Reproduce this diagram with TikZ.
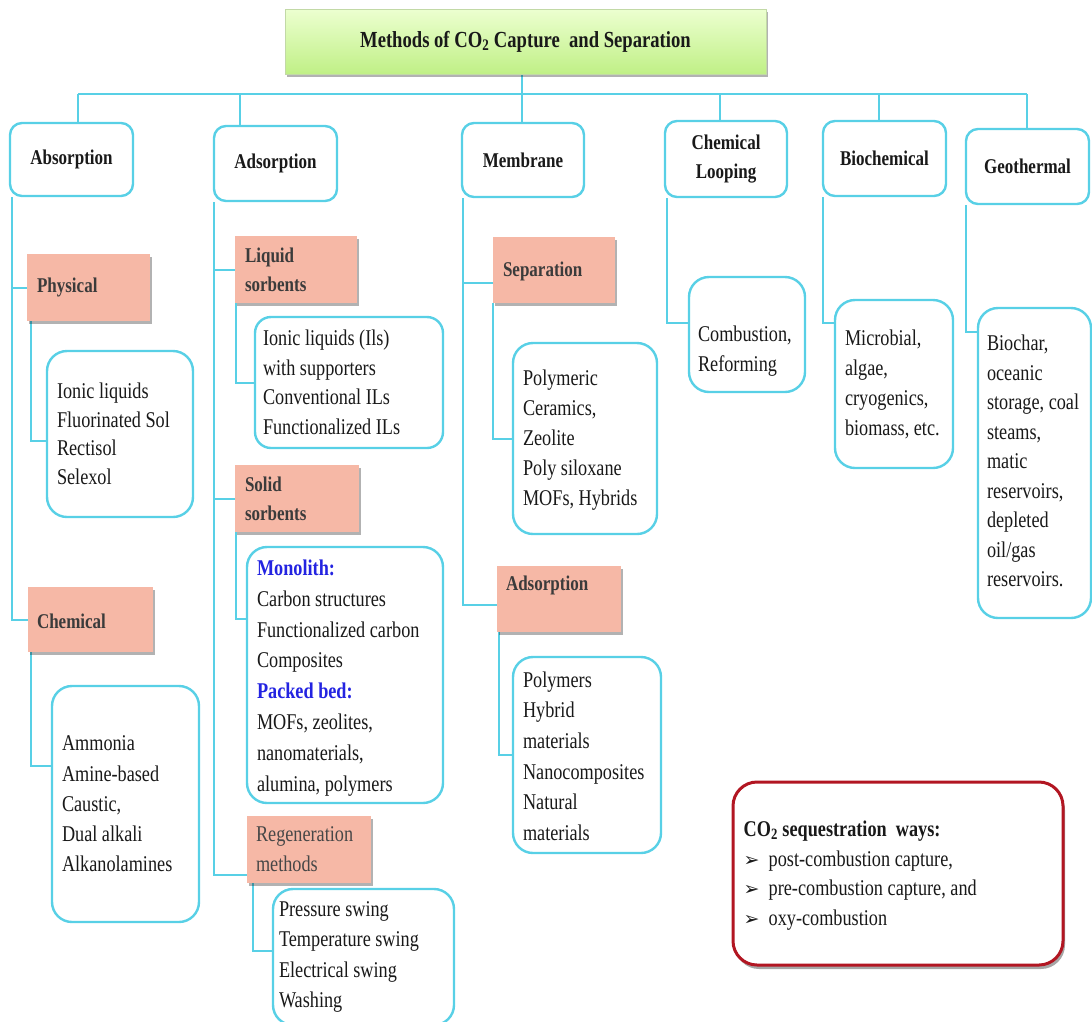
\documentclass[tikz,border=0pt]{standalone}
\usepackage{fontspec}
\setmainfont{Liberation Serif}[FakeStretch=0.81]
\newfontfamily\symf{DejaVu Sans}
\usetikzlibrary{shadows,backgrounds}
\definecolor{cyanl}{RGB}{88,208,230}
\definecolor{salmon}{RGB}{246,184,166}
\definecolor{darkred}{RGB}{178,22,34}
\definecolor{monoblue}{RGB}{35,35,225}
\definecolor{txt}{RGB}{25,25,25}
\definecolor{gtop}{RGB}{236,255,208}
\definecolor{gbot}{RGB}{192,240,134}
\newcommand\bodyf{\fontsize{22.5}{29.5}\selectfont}
\newcommand\headf{\fontsize{21}{29}\selectfont\bfseries}
\newcommand\titlef{\fontsize{23}{28}\selectfont\bfseries}
\newcommand\blt{\makebox[25pt][l]{\symf\fontsize{19}{19}\selectfont ➢}}
\begin{document}
\begin{tikzpicture}[x=1pt,y=-1pt,
 conn/.style={draw=cyanl, line width=2pt},
 hbox/.style={draw=cyanl, line width=2.4pt, rounded corners=12pt, fill=white, inner sep=0pt, font=\headf, text=txt, align=center},
 lbox/.style={draw=cyanl, line width=2.4pt, rounded corners=20pt, fill=white, inner sep=0pt},
 sbox/.style={fill=salmon, inner sep=0pt, drop shadow={shadow xshift=1.5pt, shadow yshift=-3pt, fill=black, opacity=0.3}},
 ltext/.style={font=\bodyf, text=txt, align=left, inner sep=0pt, anchor=west},
 stext/.style={font=\headf, text=txt!85, align=left, inner sep=0pt, anchor=west},
]
\useasboundingbox (0,0) rectangle (1092,1021);

% title
\node[draw=gbot!80!black!60, line width=0.6pt, top color=gtop, bottom color=gbot, minimum width=481, minimum height=65, inner sep=0pt, font=\titlef, text=txt,
  drop shadow={shadow xshift=2pt, shadow yshift=-3pt, fill=black, opacity=0.3}] (title) at (525.5,41.5) {Methods of CO\textsubscript{2} Capture~ and Separation};

% level 1
\node[hbox, minimum width=123, minimum height=73] (absorb) at (71.5,159.5) {Absorption};
\node[hbox, minimum width=123, minimum height=75] (adsorb) at (275.5,163.5) {Adsorption};
\node[hbox, minimum width=122, minimum height=74] (memb) at (523,160) {Membrane};
\node[hbox, minimum width=122, minimum height=76] (cloop) at (726,159) {Chemical\\Looping};
\node[hbox, minimum width=123, minimum height=75] (bioch) at (884.5,158.5) {Biochemical};
\node[hbox, minimum width=123, minimum height=75] (geoth) at (1027.5,166.5) {Geothermal};

% absorption
\node[sbox, minimum width=123, minimum height=67] (phys) at (88.5,287.5) {};
\node[stext] (phys-t) at ([xshift=10pt]phys.west) {Physical};
\node[lbox, minimum width=146, minimum height=166] (physl) at (120,434) {};
\node[ltext, font=\fontsize{22.5}{28.5}\selectfont] (physl-t) at ([xshift=11pt]physl.west) {Ionic liquids\\Fluorinated Sol\\Rectisol\\Selexol};
\node[sbox, minimum width=125, minimum height=65] (chem) at (90.5,619.5) {};
\node[stext] (chem-t) at ([xshift=9pt,yshift=-2pt]chem.west) {Chemical};
\node[lbox, minimum width=147, minimum height=236] (cheml) at (125.5,804) {};
\node[ltext, font=\fontsize{22.5}{30.3}\selectfont] (cheml-t) at ([xshift=11pt]cheml.west) {Ammonia\\Amine-based\\Caustic,\\Dual alkali\\Alkanolamines};

% adsorption
\node[sbox, minimum width=122, minimum height=67] (liq) at (296,269.5) {};
\node[stext] (liq-t) at ([xshift=10pt]liq.west) {Liquid\\sorbents};
\node[lbox, rounded corners=16pt, minimum width=188, minimum height=131] (liql) at (349,382.5) {};
\node[ltext] (liql-t) at ([xshift=9pt]liql.west) {Ionic liquids (Ils)\\with supporters\\Conventional ILs\\Functionalized ILs};
\node[sbox, minimum width=124, minimum height=67] (sol) at (297,498.5) {};
\node[stext] (sol-t) at ([xshift=10pt]sol.west) {Solid\\sorbents};
\node[lbox, minimum width=196, minimum height=256] (soll) at (345,675) {};
\node[ltext, font=\fontsize{22.5}{30.8}\selectfont] (soll-t) at ([xshift=11pt,yshift=-3pt]soll.west) {\textcolor{monoblue}{\bfseries Monolith:}\\Carbon structures\\Functionalized carbon\\Composites\\\textcolor{monoblue}{\bfseries Packed bed:}\\MOFs, zeolites,\\nanomaterials,\\alumina, polymers};
\node[sbox, minimum width=124, minimum height=67] (regen) at (309,849.5) {};
\node[ltext, text=txt!80, font=\fontsize{22.5}{30}\selectfont] (regen-t) at ([xshift=9pt]regen.west) {Regeneration\\methods};
\node[lbox, minimum width=181, minimum height=136] (regl) at (363.5,957) {};
\node[ltext, font=\fontsize{22.5}{30.3}\selectfont] (regl-t) at ([xshift=7pt]regl.west) {Pressure swing\\Temperature swing\\Electrical swing\\Washing};

% membrane
\node[sbox, minimum width=122, minimum height=66] (sep) at (554,270) {};
\node[stext] (sep-t) at ([xshift=10pt,yshift=-1pt]sep.west) {Separation};
\node[lbox, minimum width=144, minimum height=191] (sepl) at (585,438.5) {};
\node[ltext, font=\fontsize{22.5}{30}\selectfont] (sepl-t) at ([xshift=11pt,yshift=-2pt]sepl.west) {Polymeric\\Ceramics,\\Zeolite\\Poly siloxane\\MOFs, Hybrids};
\node[sbox, minimum width=124, minimum height=66] (madsb) at (559,599) {};
\node[stext] (madsb-t) at ([xshift=9pt,yshift=14pt]madsb.west) {Adsorption};
\node[lbox, minimum width=148, minimum height=196] (madsl) at (587,755) {};
\node[ltext, font=\fontsize{22.5}{30.6}\selectfont] (madsl-t) at ([xshift=11pt,yshift=-1pt]madsl.west) {Polymers\\Hybrid\\materials\\Nanocomposites\\Natural\\materials};

% right columns
\node[lbox, minimum width=116, minimum height=115] (cll) at (747,334.5) {};
\node[ltext, font=\fontsize{22.5}{30}\selectfont] (cll-t) at ([xshift=10pt,yshift=-17pt]cll.west) {Combustion,\\Reforming};
\node[lbox, minimum width=118, minimum height=168] (biol) at (894,384) {};
\node[ltext, font=\fontsize{22.5}{30}\selectfont] (biol-t) at ([xshift=11pt]biol.west) {Microbial,\\algae,\\cryogenics,\\biomass, etc.};
\node[lbox, minimum width=113, minimum height=310] (geol) at (1034.5,463) {};
\node[ltext, font=\fontsize{22.5}{29.5}\selectfont] (geol-t) at ([xshift=10pt,yshift=2pt]geol.west) {Biochar,\\oceanic\\storage, coal\\steams,\\matic\\reservoirs,\\depleted\\oil/gas\\reservoirs.};

% sequestration box
\node[draw=darkred, line width=3pt, rounded corners=24pt, fill=white, minimum width=330, minimum height=183, inner sep=0pt,
  drop shadow={shadow xshift=2pt, shadow yshift=-4pt, fill=black, opacity=0.35}] (seq) at (898,873.5) {};
\node[ltext, font=\fontsize{22.5}{29.5}\selectfont] (seq-t) at ([xshift=12pt,yshift=-2pt]seq.west) {{\bfseries CO\textsubscript{2} sequestration~ ways:}\\\blt post-combustion capture,\\\blt pre-combustion capture, and\\\blt oxy-combustion};

% connectors
\begin{pgfonlayer}{background}
\coordinate (b1) at (78,94);
\coordinate (b2) at (240,94);
\coordinate (b3) at (522,94);
\coordinate (b4) at (720,94);
\coordinate (b5) at (879,94);
\coordinate (b6) at (1027,94);
\draw[conn] (b1) -- (b6);
\draw[conn] (title.south -| b3) -- (b3 |- memb.north);
\draw[conn] (b1) -- (b1 |- absorb.north);
\draw[conn] (b2) -- (b2 |- adsorb.north);
\draw[conn] (b4) -- (b4 |- cloop.north);
\draw[conn] (b5) -- (b5 |- bioch.north);
\draw[conn] (b6) -- (b6 |- geoth.north);
% absorption
\coordinate (ax) at ([xshift=3pt]absorb.south west);
\draw[conn] (ax) |- (chem.west);
\draw[conn] (ax |- phys.west) -- (phys.west);
\draw[conn] ([xshift=4pt]phys.south west) |- ([yshift=-7pt]physl.west);
\draw[conn] ([xshift=3pt]chem.south west) |- ([yshift=38pt]cheml.west);
% adsorption
\coordinate (dx) at ([xshift=1pt]adsorb.south west);
\draw[conn] (dx) |- ([yshift=-25pt]regen.west);
\draw[conn] (dx |- liq.west) -- (liq.west);
\draw[conn] (dx |- sol.west) -- (sol.west);
\draw[conn] ([xshift=1pt]liq.south west) |- (liql.west);
\draw[conn] ([xshift=1pt]sol.south west) |- ([yshift=56pt]soll.west);
\draw[conn] ([xshift=6pt]regen.south west) |- ([yshift=6pt]regl.west);
% membrane
\coordinate (mx) at ([xshift=2pt]memb.south west);
\draw[conn] (mx) |- ([yshift=-6pt]madsb.west);
\draw[conn] (mx |- sep.west) ++(0,13) -- ([yshift=-13pt]sep.west);
\draw[conn] (sep.south west) |- (sepl.west);
\draw[conn] ([xshift=2pt]madsb.south west) |- (madsl.west);
% right
\draw[conn] ([xshift=3pt]cloop.south west) |- ([yshift=12pt]cll.west);
\draw[conn] ([xshift=1pt]bioch.south west) |- ([yshift=61pt]biol.west);
\draw[conn] ([xshift=1pt]geoth.south west) |- ([yshift=131pt]geol.west);
\end{pgfonlayer}
\end{tikzpicture}
\end{document}
